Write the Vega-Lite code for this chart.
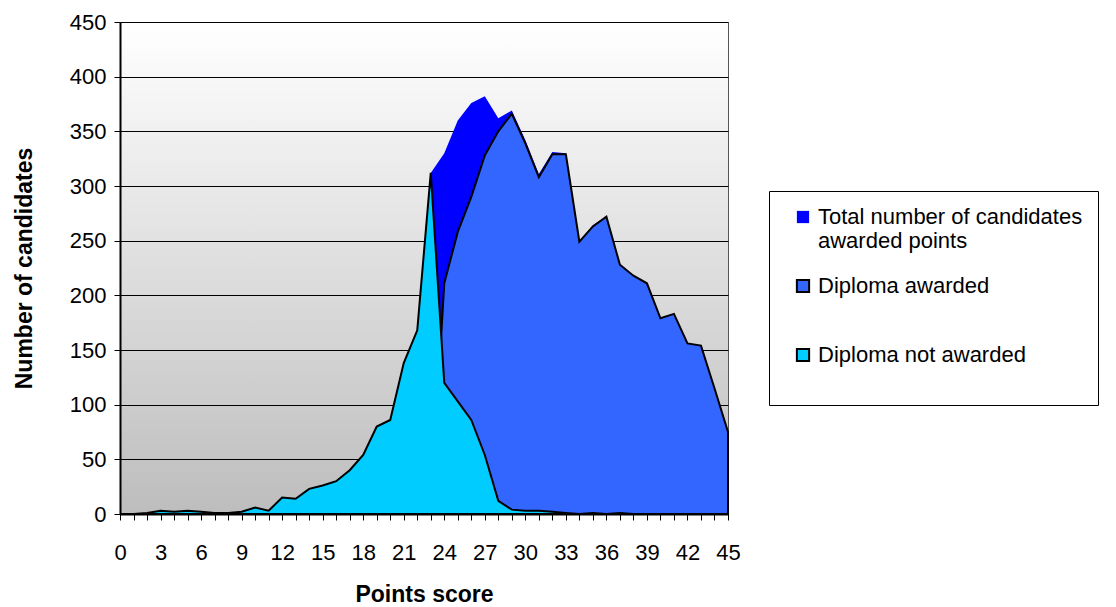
{
  "$schema": "https://vega.github.io/schema/vega-lite/v6.json",
  "autosize": {"type": "none"},
  "width": 608,
  "height": 492,
  "padding": {"left": 120, "top": 22, "right": 388, "bottom": 93},
  "background": "#ffffff",
  "config": {
    "font": "Liberation Sans",
    "view": {
      "stroke": "#555555",
      "strokeWidth": 1,
      "fill": {
        "gradient": "linear",
        "x1": 0, "y1": 0, "x2": 0, "y2": 1,
        "stops": [
          {"offset": 0, "color": "#ffffff"},
          {"offset": 1, "color": "#bdbdbd"}
        ]
      }
    },
    "axis": {
      "labelFont": "Liberation Sans",
      "titleFont": "Liberation Sans",
      "labelFontSize": 22,
      "titleFontSize": 23,
      "titleFontWeight": "bold",
      "labelColor": "#000000",
      "titleColor": "#000000",
      "domainColor": "#000000",
      "domainWidth": 2,
      "tickColor": "#000000",
      "tickSize": 6,
      "tickWidth": 1,
      "labelOverlap": false,
      "labelBound": false,
      "labelFlush": false
    },
    "legend": {
      "labelFont": "Liberation Sans",
      "labelFontSize": 22,
      "labelColor": "#000000"
    }
  },
  "data": {
    "values": [
      {"score": 0, "total": 0, "awarded": 0, "not_awarded": 0},
      {"score": 1, "total": 0, "awarded": 0, "not_awarded": 0},
      {"score": 2, "total": 1, "awarded": 0, "not_awarded": 1},
      {"score": 3, "total": 3, "awarded": 0, "not_awarded": 3},
      {"score": 4, "total": 2, "awarded": 0, "not_awarded": 2},
      {"score": 5, "total": 3, "awarded": 0, "not_awarded": 3},
      {"score": 6, "total": 2, "awarded": 0, "not_awarded": 2},
      {"score": 7, "total": 1, "awarded": 0, "not_awarded": 1},
      {"score": 8, "total": 1, "awarded": 0, "not_awarded": 1},
      {"score": 9, "total": 2, "awarded": 0, "not_awarded": 2},
      {"score": 10, "total": 6, "awarded": 0, "not_awarded": 6},
      {"score": 11, "total": 3, "awarded": 0, "not_awarded": 3},
      {"score": 12, "total": 15, "awarded": 0, "not_awarded": 15},
      {"score": 13, "total": 14, "awarded": 0, "not_awarded": 14},
      {"score": 14, "total": 23, "awarded": 0, "not_awarded": 23},
      {"score": 15, "total": 26, "awarded": 0, "not_awarded": 26},
      {"score": 16, "total": 30, "awarded": 0, "not_awarded": 30},
      {"score": 17, "total": 40, "awarded": 0, "not_awarded": 40},
      {"score": 18, "total": 54, "awarded": 0, "not_awarded": 54},
      {"score": 19, "total": 80, "awarded": 0, "not_awarded": 80},
      {"score": 20, "total": 86, "awarded": 0, "not_awarded": 86},
      {"score": 21, "total": 138, "awarded": 0, "not_awarded": 138},
      {"score": 22, "total": 168, "awarded": 0, "not_awarded": 168},
      {"score": 23, "total": 312, "awarded": 0, "not_awarded": 312},
      {"score": 24, "total": 330, "awarded": 211, "not_awarded": 120},
      {"score": 25, "total": 360, "awarded": 258, "not_awarded": 103},
      {"score": 26, "total": 376, "awarded": 290, "not_awarded": 86},
      {"score": 27, "total": 382, "awarded": 328, "not_awarded": 54},
      {"score": 28, "total": 362, "awarded": 350, "not_awarded": 12},
      {"score": 29, "total": 369, "awarded": 366, "not_awarded": 4},
      {"score": 30, "total": 342, "awarded": 339, "not_awarded": 3},
      {"score": 31, "total": 311, "awarded": 308, "not_awarded": 3},
      {"score": 32, "total": 331, "awarded": 329, "not_awarded": 2},
      {"score": 33, "total": 330, "awarded": 329, "not_awarded": 1},
      {"score": 34, "total": 249, "awarded": 249, "not_awarded": 0},
      {"score": 35, "total": 264, "awarded": 263, "not_awarded": 1},
      {"score": 36, "total": 272, "awarded": 272, "not_awarded": 0},
      {"score": 37, "total": 229, "awarded": 228, "not_awarded": 1},
      {"score": 38, "total": 218, "awarded": 218, "not_awarded": 0},
      {"score": 39, "total": 211, "awarded": 211, "not_awarded": 0},
      {"score": 40, "total": 179, "awarded": 179, "not_awarded": 0},
      {"score": 41, "total": 183, "awarded": 183, "not_awarded": 0},
      {"score": 42, "total": 156, "awarded": 156, "not_awarded": 0},
      {"score": 43, "total": 154, "awarded": 154, "not_awarded": 0},
      {"score": 44, "total": 115, "awarded": 115, "not_awarded": 0},
      {"score": 45, "total": 75, "awarded": 75, "not_awarded": 0}
    ]
  },
  "encoding": {
    "x": {
      "field": "score",
      "type": "quantitative",
      "scale": {"domain": [0, 45], "nice": false, "zero": true},
      "axis": {
        "title": "Points score",
        "values": [0,1,2,3,4,5,6,7,8,9,10,11,12,13,14,15,16,17,18,19,20,21,22,23,24,25,26,27,28,29,30,31,32,33,34,35,36,37,38,39,40,41,42,43,44,45],
        "labelExpr": "datum.value % 3 === 0 ? datum.label : ''",
        "grid": false,
        "labelPadding": 22,
        "titlePadding": 20,
        "labelFlush": false,
        "labelOverlap": false,
        "labelBound": false
      }
    },
    "y": {
      "field": "n",
      "type": "quantitative",
      "scale": {"domain": [0, 450], "nice": false},
      "axis": {
        "title": "Number of candidates",
        "values": [0, 50, 100, 150, 200, 250, 300, 350, 400, 450],
        "grid": true,
        "gridColor": "#000000",
        "gridWidth": 1,
        "labelPadding": 8,
        "titlePadding": 33,
        "labelOverlap": false
      }
    },
    "color": {
      "field": "series",
      "type": "nominal",
      "scale": {"domain": ["total", "awarded", "not_awarded"], "range": ["#0000ff", "#3366ff", "#00ccff"]},
      "legend": {
        "title": null,
        "orient": "none",
        "legendX": 649,
        "legendY": 169,
        "direction": "vertical",
        "strokeColor": "#000000",
        "fillColor": "#ffffff",
        "padding": 15,
        "symbolType": "square",
        "symbolSize": 150,
        "symbolStrokeWidth": 2,
        "symbolOpacity": 1,
        "symbolOffset": 8,
        "labelOffset": 4,
        "rowPadding": 23,
        "labelLimit": 400,
        "labelExpr": "datum.value === 'total' ? ['Total number of candidates', 'awarded points'] : datum.value === 'awarded' ? ['Diploma awarded', ''] : ['Diploma not awarded', '']"
      }
    },
    "stroke": {
      "field": "series",
      "type": "nominal",
      "scale": {"domain": ["total", "awarded", "not_awarded"], "range": ["transparent", "#000000", "#000000"]},
      "legend": {
        "title": null,
        "orient": "none",
        "legendX": 649,
        "legendY": 169,
        "direction": "vertical",
        "strokeColor": "#000000",
        "fillColor": "#ffffff",
        "padding": 15,
        "symbolType": "square",
        "symbolSize": 150,
        "symbolStrokeWidth": 2,
        "symbolOpacity": 1,
        "symbolOffset": 8,
        "labelOffset": 4,
        "rowPadding": 23,
        "labelLimit": 400,
        "labelExpr": "datum.value === 'total' ? ['Total number of candidates', 'awarded points'] : datum.value === 'awarded' ? ['Diploma awarded', ''] : ['Diploma not awarded', '']"
      }
    }
  },
  "layer": [
    {
      "transform": [
        {"fold": ["total", "awarded", "not_awarded"], "as": ["series", "n"]},
        {"filter": "datum.series === 'total'"}
      ],
      "mark": {"type": "area", "strokeWidth": 2}
    },
    {
      "transform": [
        {"fold": ["total", "awarded", "not_awarded"], "as": ["series", "n"]},
        {"filter": "datum.series === 'awarded'"}
      ],
      "mark": {"type": "area", "strokeWidth": 2}
    },
    {
      "transform": [
        {"fold": ["total", "awarded", "not_awarded"], "as": ["series", "n"]},
        {"filter": "datum.series === 'not_awarded'"}
      ],
      "mark": {"type": "area", "strokeWidth": 2}
    }
  ]
}
